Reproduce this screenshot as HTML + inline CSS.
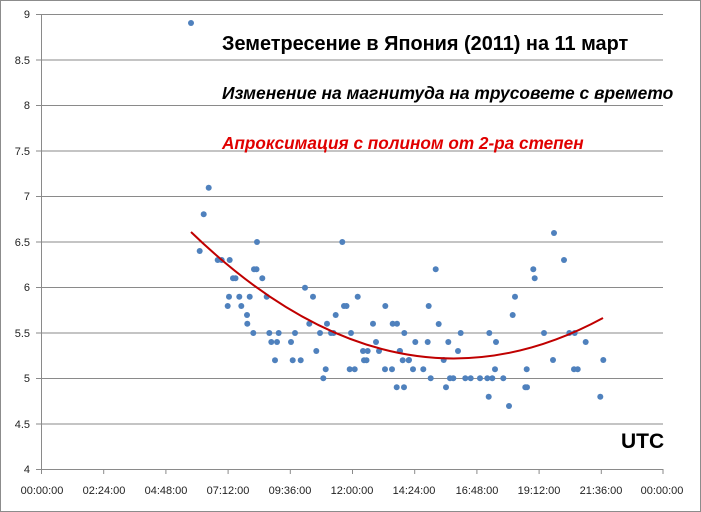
<!DOCTYPE html>
<html><head><meta charset="utf-8"><style>
html,body{margin:0;padding:0;background:#fff;}
svg{display:block;font-family:"Liberation Sans",sans-serif;}
</style></head><body>
<svg width="701" height="512" viewBox="0 0 701 512" xmlns="http://www.w3.org/2000/svg">
<rect x="0.5" y="0.5" width="700" height="511" fill="#fff" stroke="#8c8c8c"/>
<g stroke="#8a8a8a" stroke-width="1">
<line x1="41" y1="14.5" x2="663" y2="14.5"/>
<line x1="41" y1="60" x2="663" y2="60"/>
<line x1="41" y1="105.5" x2="663" y2="105.5"/>
<line x1="41" y1="151" x2="663" y2="151"/>
<line x1="41" y1="196.5" x2="663" y2="196.5"/>
<line x1="41" y1="242" x2="663" y2="242"/>
<line x1="41" y1="287.5" x2="663" y2="287.5"/>
<line x1="41" y1="333" x2="663" y2="333"/>
<line x1="41" y1="378.5" x2="663" y2="378.5"/>
<line x1="41" y1="424" x2="663" y2="424"/>
<line x1="41" y1="469.5" x2="663" y2="469.5"/>
<line x1="41.5" y1="14" x2="41.5" y2="469"/>
</g>
<g stroke="#8a8a8a">
<line x1="36" y1="14.5" x2="41" y2="14.5"/><line x1="36" y1="60" x2="41" y2="60"/><line x1="36" y1="105.5" x2="41" y2="105.5"/><line x1="36" y1="151" x2="41" y2="151"/><line x1="36" y1="196.5" x2="41" y2="196.5"/><line x1="36" y1="242" x2="41" y2="242"/><line x1="36" y1="287.5" x2="41" y2="287.5"/><line x1="36" y1="333" x2="41" y2="333"/><line x1="36" y1="378.5" x2="41" y2="378.5"/><line x1="36" y1="424" x2="41" y2="424"/><line x1="36" y1="469.5" x2="41" y2="469.5"/>
<line x1="41.5" y1="469" x2="41.5" y2="474"/><line x1="103.7" y1="469" x2="103.7" y2="474"/><line x1="165.9" y1="469" x2="165.9" y2="474"/><line x1="228.1" y1="469" x2="228.1" y2="474"/><line x1="290.3" y1="469" x2="290.3" y2="474"/><line x1="352.5" y1="469" x2="352.5" y2="474"/><line x1="414.7" y1="469" x2="414.7" y2="474"/><line x1="476.9" y1="469" x2="476.9" y2="474"/><line x1="539.1" y1="469" x2="539.1" y2="474"/><line x1="601.3" y1="469" x2="601.3" y2="474"/><line x1="663" y1="469" x2="663" y2="474"/>
</g>
<g font-size="11" fill="#222" text-anchor="end">
<text x="30" y="18">9</text><text x="30" y="64">8.5</text><text x="30" y="109">8</text><text x="30" y="155">7.5</text><text x="30" y="200">7</text><text x="30" y="246">6.5</text><text x="30" y="291">6</text><text x="30" y="337">5.5</text><text x="30" y="382">5</text><text x="30" y="428">4.5</text><text x="30" y="473">4</text>
</g>
<g font-size="11" fill="#222" text-anchor="middle">
<text x="42" y="494">00:00:00</text><text x="104" y="494">02:24:00</text><text x="166" y="494">04:48:00</text><text x="228" y="494">07:12:00</text><text x="290" y="494">09:36:00</text><text x="352" y="494">12:00:00</text><text x="414" y="494">14:24:00</text><text x="477" y="494">16:48:00</text><text x="539" y="494">19:12:00</text><text x="601" y="494">21:36:00</text><text x="662" y="494">00:00:00</text>
</g>
<g fill="#4f81bd">
<circle cx="191" cy="23" r="3"/><circle cx="208.7" cy="187.7" r="3"/><circle cx="203.7" cy="214.3" r="3"/><circle cx="199.7" cy="251" r="3"/><circle cx="217.7" cy="260" r="3"/><circle cx="221.7" cy="260" r="3"/><circle cx="229.7" cy="260" r="3"/><circle cx="257" cy="242" r="3"/><circle cx="254" cy="269.3" r="3"/><circle cx="256.5" cy="269.3" r="3"/><circle cx="233" cy="278.3" r="3"/><circle cx="235.5" cy="278.3" r="3"/><circle cx="262.3" cy="278.3" r="3"/><circle cx="305" cy="287.7" r="3"/><circle cx="229" cy="296.7" r="3"/><circle cx="239.3" cy="296.7" r="3"/><circle cx="249.7" cy="296.7" r="3"/><circle cx="266.7" cy="296.7" r="3"/><circle cx="313" cy="296.7" r="3"/><circle cx="357.7" cy="296.7" r="3"/><circle cx="342.3" cy="242" r="3"/><circle cx="227.7" cy="306" r="3"/><circle cx="241.3" cy="306" r="3"/><circle cx="344" cy="306" r="3"/><circle cx="346.5" cy="306" r="3"/><circle cx="385.3" cy="306" r="3"/><circle cx="247" cy="315" r="3"/><circle cx="335.7" cy="315" r="3"/><circle cx="247.3" cy="323.7" r="3"/><circle cx="309.3" cy="323.7" r="3"/><circle cx="327" cy="323.7" r="3"/><circle cx="373" cy="323.7" r="3"/><circle cx="392.7" cy="323.7" r="3"/><circle cx="397" cy="323.7" r="3"/><circle cx="253.3" cy="333" r="3"/><circle cx="269.3" cy="333" r="3"/><circle cx="278.7" cy="333" r="3"/><circle cx="295" cy="333" r="3"/><circle cx="320" cy="333" r="3"/><circle cx="331" cy="333" r="3"/><circle cx="333.5" cy="333" r="3"/><circle cx="351" cy="333" r="3"/><circle cx="404.3" cy="333" r="3"/><circle cx="271.3" cy="342" r="3"/><circle cx="277" cy="342" r="3"/><circle cx="291" cy="342" r="3"/><circle cx="376" cy="342" r="3"/><circle cx="415.3" cy="342" r="3"/><circle cx="316.3" cy="351" r="3"/><circle cx="363" cy="351" r="3"/><circle cx="367.7" cy="351" r="3"/><circle cx="379" cy="351" r="3"/><circle cx="399.7" cy="351" r="3"/><circle cx="275" cy="360.3" r="3"/><circle cx="292.7" cy="360.3" r="3"/><circle cx="300.7" cy="360.3" r="3"/><circle cx="364" cy="360.3" r="3"/><circle cx="366.5" cy="360.3" r="3"/><circle cx="402.7" cy="360.3" r="3"/><circle cx="408.7" cy="360.3" r="3"/><circle cx="325.7" cy="369.3" r="3"/><circle cx="349.7" cy="369.3" r="3"/><circle cx="354.7" cy="369.3" r="3"/><circle cx="385" cy="369.3" r="3"/><circle cx="392" cy="369.3" r="3"/><circle cx="413" cy="369.3" r="3"/><circle cx="323.3" cy="378.3" r="3"/><circle cx="396.7" cy="387.3" r="3"/><circle cx="404" cy="387.3" r="3"/>
<circle cx="554" cy="233" r="3"/><circle cx="564" cy="260" r="3"/><circle cx="435.7" cy="269.3" r="3"/><circle cx="533.3" cy="269.3" r="3"/><circle cx="534.7" cy="278.3" r="3"/><circle cx="515" cy="296.7" r="3"/><circle cx="428.7" cy="306" r="3"/><circle cx="512.7" cy="315" r="3"/><circle cx="438.7" cy="324" r="3"/><circle cx="460.7" cy="333" r="3"/><circle cx="489.3" cy="333" r="3"/><circle cx="544" cy="333" r="3"/><circle cx="569.3" cy="333" r="3"/><circle cx="574.7" cy="333" r="3"/><circle cx="427.7" cy="342" r="3"/><circle cx="448.3" cy="342" r="3"/><circle cx="496" cy="342" r="3"/><circle cx="585.7" cy="342" r="3"/><circle cx="400" cy="351" r="3"/><circle cx="458" cy="351" r="3"/><circle cx="409" cy="360" r="3"/><circle cx="443.7" cy="360" r="3"/><circle cx="553" cy="360" r="3"/><circle cx="603.3" cy="360" r="3"/><circle cx="423.3" cy="369.3" r="3"/><circle cx="495" cy="369.3" r="3"/><circle cx="526.7" cy="369.3" r="3"/><circle cx="574" cy="369.3" r="3"/><circle cx="577.7" cy="369.3" r="3"/><circle cx="430.7" cy="378.3" r="3"/><circle cx="450" cy="378.3" r="3"/><circle cx="453.3" cy="378.3" r="3"/><circle cx="465.3" cy="378.3" r="3"/><circle cx="470.7" cy="378.3" r="3"/><circle cx="480" cy="378.3" r="3"/><circle cx="487.3" cy="378.3" r="3"/><circle cx="492.3" cy="378.3" r="3"/><circle cx="503.3" cy="378.3" r="3"/><circle cx="446" cy="387.3" r="3"/><circle cx="525.3" cy="387.3" r="3"/><circle cx="527" cy="387.3" r="3"/><circle cx="488.7" cy="396.7" r="3"/><circle cx="600.3" cy="396.7" r="3"/><circle cx="509" cy="406" r="3"/>
</g>
<path d="M191,232 Q396,430 603,318" fill="none" stroke="#c00000" stroke-width="2"/>
<text x="222" y="50" font-size="19.9" font-weight="bold" fill="#000">Земетресение в Япония (2011) на 11 март</text>
<text x="222" y="99" font-size="17.4" font-weight="bold" font-style="italic" fill="#000">Изменение на магнитуда на трусовете с времето</text>
<text x="222" y="149" font-size="17.2" font-weight="bold" font-style="italic" fill="#e00000">Апроксимация с полином от 2-ра степен</text>
<text x="621" y="448" font-size="21" font-weight="bold" fill="#000">UTC</text>
</svg>
</body></html>
